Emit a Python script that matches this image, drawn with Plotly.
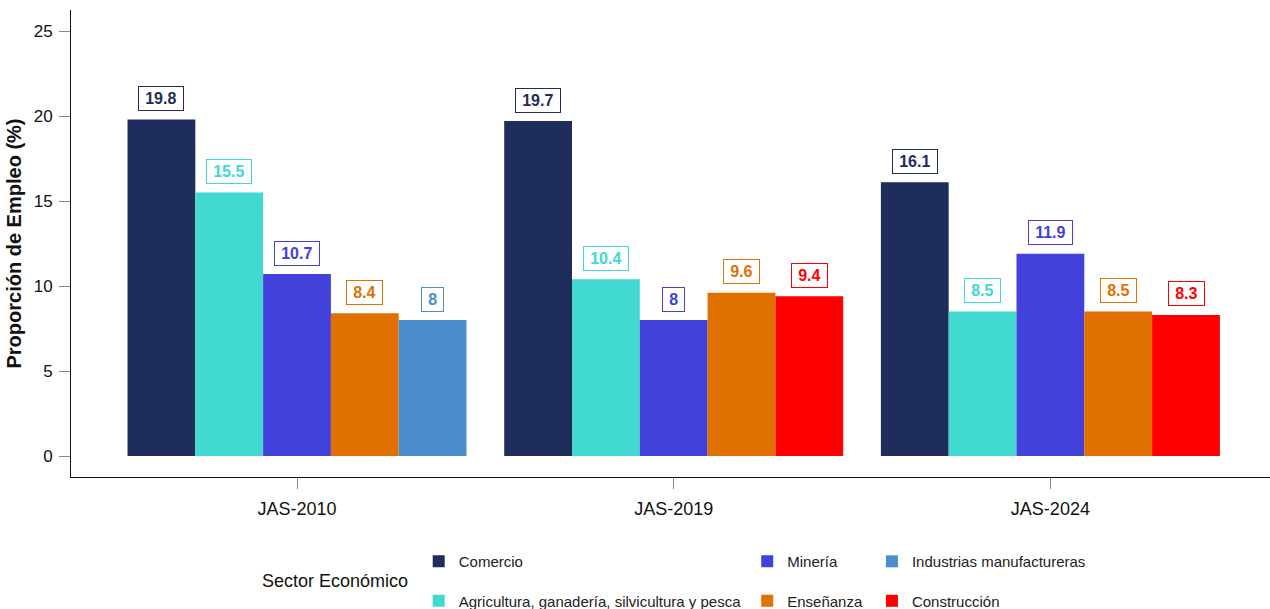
import plotly.graph_objects as go

PERIODS = ["JAS-2010", "JAS-2019", "JAS-2024"]
SECTORS = ["Comercio", "Agricultura, ganadería, silvicultura y pesca", "Minería",
           "Enseñanza", "Industrias manufactureras", "Construcción"]
COMERCIO = [19.8, 19.7, 16.1]
AGRICULTURA = [15.5, 10.4, 8.5]
MINERIA = [10.7, 8, 11.9]
ENSENANZA = [8.4, 9.6, 8.5]
INDUSTRIAS = [8, None, None]
CONSTRUCCION = [None, 9.4, 8.3]
VALUES = [COMERCIO, AGRICULTURA, MINERIA, ENSENANZA, INDUSTRIAS, CONSTRUCCION]
SLOTS = [0, 1, 2, 3, 4, 4]
LEGENDS = ["legend", "legend", "legend2", "legend2", "legend3", "legend3"]
COLORS = ["#1F2D5C", "#41D9D0", "#4241DA", "#E07000", "#4A8FCC", "#FF0000"]
Y_TICKS = [0, 5, 10, 15, 20, 25]

FONT = "Arial, Liberation Sans, sans-serif"
N_SLOTS = 5
GROUP_WIDTH = 0.9
BAR_W = GROUP_WIDTH / N_SLOTS
PAD = "\u2009"  # thin space, widens the label boxes a bit

fig = go.Figure()
annotations = []
for name, vals, slot, leg, color in zip(SECTORS, VALUES, SLOTS, LEGENDS, COLORS):
    fig.add_trace(go.Bar(
        x=PERIODS, y=vals, name=name, marker_color=color,
        marker_line_width=0, offsetgroup=str(slot),
        legend=leg, legendgroup=name, hoverinfo="x+y+name"))
    for i, v in enumerate(vals):
        if v is None:
            continue
        annotations.append(dict(
            x=i + (slot - (N_SLOTS - 1) / 2) * BAR_W, y=v, xref="x", yref="y",
            text=f"{PAD}<b>{v:g}</b>{PAD}", showarrow=False, yshift=21,
            font=dict(family=FONT, size=16, color=color),
            bgcolor="white", bordercolor=color, borderwidth=1, borderpad=3))

annotations.append(dict(
    x=0.283, y=-0.223, xref="paper", yref="paper", xanchor="right",
    yanchor="middle", text="Sector Económico", showarrow=False,
    font=dict(family=FONT, size=18, color="#111111")))

legend_style = dict(orientation="v", yanchor="top", xanchor="left",
                    yref="container", y=0.105,
                    font=dict(family=FONT, size=15, color="#222222"),
                    tracegroupgap=17, bgcolor="rgba(0,0,0,0)")

fig.update_layout(
    barmode="group", bargap=1 - GROUP_WIDTH, bargroupgap=0,
    width=1270, height=609,
    margin=dict(l=71, r=0, t=10, b=132),
    paper_bgcolor="white", plot_bgcolor="white",
    font=dict(family=FONT, color="#222222"),
    annotations=annotations,
    legend=dict(x=0.290, **legend_style),
    legend2=dict(x=0.564, **legend_style),
    legend3=dict(x=0.668, **legend_style),
)
fig.update_xaxes(
    range=[-0.6, 2.583], showline=True, linecolor="#111111", linewidth=1,
    ticks="outside", ticklen=11, tickcolor="#888888", tickwidth=1,
    ticklabelstandoff=4,
    tickfont=dict(family=FONT, size=18, color="#111111"), showgrid=False)
fig.update_yaxes(
    range=[-1.235, 26.235], tickvals=Y_TICKS, showline=True,
    linecolor="#111111", linewidth=1, ticks="outside", ticklen=11,
    tickcolor="#888888", tickwidth=1, zeroline=False, showgrid=False,
    ticklabelstandoff=3,
    tickfont=dict(family=FONT, size=17, color="#111111"),
    title=dict(text="<b>Proporción de Empleo (%)</b>", standoff=6,
               font=dict(family=FONT, size=20, color="#111111")))

fig.write_html("out.html", config={"displayModeBar": False},
               post_script="document.body.style.margin='0';")
